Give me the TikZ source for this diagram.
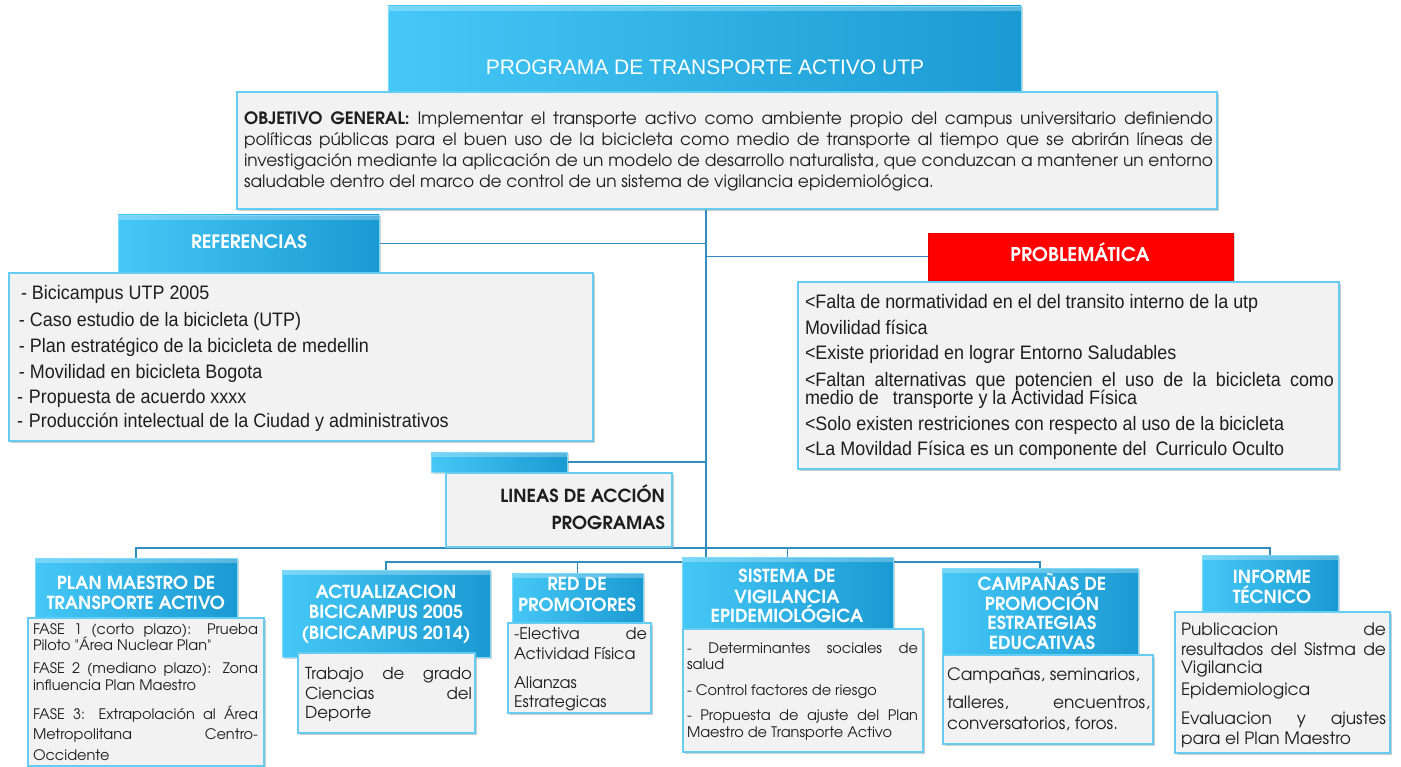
\documentclass[tikz,border=0pt]{standalone}
\usepackage{fontspec}
\setmainfont{texgyreadventor}[Extension=.otf,UprightFont=*-regular,BoldFont=*-bold,ItalicFont=*-italic,BoldItalicFont=*-bolditalic]
\newfontfamily\narrowf[FakeStretch=0.92]{Liberation Sans}
\newfontfamily\titlef{Liberation Sans}
\usetikzlibrary{shadows}
\pgfdeclarelayer{bg}
\pgfsetlayers{bg,main}
\definecolor{hbA}{HTML}{45C8F7}
\definecolor{hbB}{HTML}{1A9AD2}
\definecolor{hbE}{HTML}{7FD9F8}
\definecolor{cbF}{HTML}{F2F2F2}
\definecolor{cbE}{HTML}{66CDF2}
\definecolor{lnC}{HTML}{2F8EBD}
\definecolor{txt}{HTML}{1E1E1E}
\definecolor{redF}{HTML}{FF0000}
\definecolor{redE}{HTML}{E00000}
\newcounter{tlc}
\newcommand\tline[4][]{\stepcounter{tlc}\node[anchor=base west,inner sep=0pt,outer sep=0pt,text=txt,#1] (tl\arabic{tlc}) at (#2,#3) {#4};}
\newcommand\jline[2]{\makebox[#1pt][s]{#2}}
\begin{document}
\begin{tikzpicture}[x=1pt,y=-1pt,
  hbox/.style={draw=hbE,line width=0.8pt,left color=hbA,right color=hbB,anchor=north west,inner sep=0pt,outer sep=0pt,
    drop shadow={shadow xshift=1.5pt,shadow yshift=-1.5pt,opacity=0.35},
    path picture={\fill[white,opacity=0.28] (path picture bounding box.north west) rectangle ([yshift=-5pt]path picture bounding box.north east);}},
  cbox/.style={draw=cbE,line width=1.3pt,fill=cbF,anchor=north west,inner sep=0pt,outer sep=0pt,
    drop shadow={shadow xshift=2pt,shadow yshift=-2pt,opacity=0.4}},
  rbox/.style={fill=redF,draw=redE,line width=0.6pt,anchor=north west,inner sep=0pt,outer sep=0pt,
    drop shadow={shadow xshift=1.5pt,shadow yshift=-1.5pt,opacity=0.35}},
  conn/.style={draw=lnC,line width=1.6pt},
  hf/.style={anchor=base,text=white,font=\bfseries\fontsize{18}{21}\selectfont},
  fobj/.style={font=\fontsize{17}{20}\selectfont},
  fnar/.style={font=\narrowf\fontsize{19.5}{22}\selectfont},
  fb14/.style={font=\fontsize{14.5}{17}\selectfont},
  fb13/.style={font=\fontsize{14.5}{17}\selectfont},
  fb15/.style={font=\fontsize{16}{19}\selectfont},
  fb16/.style={font=\fontsize{17}{20}\selectfont},
  fb17/.style={font=\fontsize{17}{20}\selectfont},
  fb165/.style={font=\fontsize{16.5}{19}\selectfont}]
\useasboundingbox (0,0) rectangle (1401,767);

% boxes
\node[hbox,minimum width=633pt,minimum height=110pt] (title) at (388,6) {};
\node[cbox,minimum width=980pt,minimum height=117pt] (obj) at (237,92) {};
\node[hbox,minimum width=261pt,minimum height=57pt] (refh) at (118,215) {};
\node[cbox,minimum width=584pt,minimum height=168pt] (refc) at (9,273) {};
\node[rbox,minimum width=305pt,minimum height=47pt] (probh) at (928,233) {};
\node[cbox,minimum width=541pt,minimum height=187pt] (probc) at (798,282) {};
\node[hbox,minimum width=136pt,minimum height=20pt] (lintab) at (431,452) {};
\node[cbox,minimum width=226pt,minimum height=74pt] (linc) at (446,473) {};

\node[hbox,minimum width=202pt,minimum height=60pt] (plan) at (35,558) {};
\node[cbox,minimum width=236pt,minimum height=148pt] (planc) at (28,618) {};
\node[hbox,minimum width=208pt,minimum height=87pt] (act) at (282,570) {};
\node[cbox,minimum width=177pt,minimum height=80pt] (actc) at (298,653) {};
\node[hbox,minimum width=131pt,minimum height=50pt] (red) at (512,573) {};
\node[cbox,minimum width=143pt,minimum height=90pt] (redc) at (508,623) {};
\node[hbox,minimum width=211pt,minimum height=73pt] (sis) at (682,557) {};
\node[cbox,minimum width=240pt,minimum height=123pt] (sisc) at (683,629) {};
\node[hbox,minimum width=196pt,minimum height=87pt] (camp) at (942,568) {};
\node[cbox,minimum width=210pt,minimum height=89pt] (campc) at (943,655) {};
\node[hbox,minimum width=136pt,minimum height=57pt] (inf) at (1202,555) {};
\node[cbox,minimum width=215pt,minimum height=141pt] (infc) at (1175,612) {};

% connectors
\coordinate (t0) at (706,209);
\coordinate (hub) at (706,548);
\coordinate (hub2) at (706,562);
\begin{pgfonlayer}{bg}
\draw[conn] (t0) -- (hub2);
\draw[conn] (refh.east) -- (refh.east -| t0);
\draw[conn] (probh.west) -- (probh.west -| t0);
\draw[conn] (lintab.east) -- (lintab.east -| t0);
\draw[conn] (hub) -| (plan.north);
\draw[conn] (hub) -| (sis.north);
\draw[conn] (hub) -| (inf.north);
\draw[conn] (hub2) -| (act.north);
\draw[conn] (hub2) -| (red.north);
\draw[conn] (hub2) -| (camp.north);
\end{pgfonlayer}

% title and objective
\node[anchor=base,text=white,font=\titlef\fontsize{21}{24}\selectfont,inner sep=0pt] (ttl) at (705,74.5) {PROGRAMA DE TRANSPORTE ACTIVO UTP};
\tline[fobj]{244}{125}{\jline{969}{\textbf{OBJETIVO GENERAL:} Implementar el transporte activo como ambiente propio del campus universitario definiendo}}
\tline[fobj]{244}{146}{\jline{969}{políticas públicas para el buen uso de la bicicleta como medio de transporte al tiempo que se abrirán líneas de}}
\tline[fobj]{244}{167}{\jline{969}{investigación mediante la aplicación de un modelo de desarrollo naturalista, que conduzcan a mantener un entorno}}
\tline[fobj]{244}{188}{saludable dentro del marco de control de un sistema de vigilancia epidemiológica.}

% referencias
\tline[hf,font=\bfseries\fontsize{18.5}{21}\selectfont]{249}{249}{REFERENCIAS}
\tline[fnar]{21}{300}{- Bicicampus UTP 2005}
\tline[fnar]{19}{327}{- Caso estudio de la bicicleta (UTP)}
\tline[fnar]{19}{353}{- Plan estratégico de la bicicleta de medellin}
\tline[fnar]{19}{378}{- Movilidad en bicicleta Bogota}
\tline[fnar]{17}{403}{-\hspace{6pt}Propuesta de acuerdo xxxx}
\tline[fnar]{17}{428}{-\hspace{6pt}Producción intelectual de la Ciudad y administrativos}

% problematica
\tline[hf,font=\bfseries\fontsize{19}{22}\selectfont]{1080}{262}{PROBLEMÁTICA}
\tline[fnar]{805}{309}{<Falta de normatividad en el del transito interno de la utp}
\tline[fnar]{805}{335}{Movilidad física}
\tline[fnar]{805}{360}{<Existe prioridad en lograr Entorno Saludables}
\tline[fnar]{805}{387}{\jline{529}{<Faltan alternativas que potencien el uso de la bicicleta como}}
\tline[fnar]{805}{405}{medio de\hspace{14pt}transporte y la Actividad Física}
\tline[fnar]{805}{430}{<Solo existen restriciones con respecto al uso de la bicicleta}
\tline[fnar]{805}{455}{<La Movildad Física es un componente del\hspace{9pt}Curriculo Oculto}

% lineas de accion
\tline[anchor=base east,font=\bfseries\fontsize{18}{21}\selectfont]{665}{502}{LINEAS DE ACCIÓN}
\tline[anchor=base east,font=\bfseries\fontsize{18}{21}\selectfont]{665}{529}{PROGRAMAS}

% plan maestro
\tline[hf]{136}{589}{PLAN MAESTRO DE}
\tline[hf]{136}{609}{TRANSPORTE ACTIVO}
\tline[fb14]{33}{634}{\jline{225}{FASE 1 (corto plazo): Prueba}}
\tline[fb14]{33}{650}{Piloto \textquotedbl Área Nuclear Plan\textquotedbl}
\tline[fb14]{33}{673}{\jline{225}{FASE 2 (mediano plazo): Zona}}
\tline[fb14]{33}{690}{influencia Plan Maestro}
\tline[fb14]{33}{719}{\jline{225}{FASE 3: Extrapolación al Área}}
\tline[fb14]{33}{739}{\jline{225}{Metropolitana Centro-}}
\tline[fb14]{33}{760}{Occidente}

% actualizacion
\tline[hf]{386}{598}{ACTUALIZACION}
\tline[hf]{386}{618}{BICICAMPUS 2005}
\tline[hf]{386}{639}{(BICICAMPUS 2014)}
\tline[fb165]{305}{679}{\jline{167}{Trabajo de grado}}
\tline[fb165]{305}{699}{\jline{167}{Ciencias del}}
\tline[fb165]{305}{718}{Deporte}

% red de promotores
\tline[hf]{577}{590}{RED DE}
\tline[hf]{577}{611}{PROMOTORES}
\tline[fb15]{514}{639}{\jline{133}{-Electiva de}}
\tline[fb15]{514}{659}{Actividad Física}
\tline[fb15]{514}{688}{Alianzas}
\tline[fb15]{514}{707}{Estrategicas}

% sistema
\tline[hf]{787}{582}{SISTEMA DE}
\tline[hf]{787}{603}{VIGILANCIA}
\tline[hf]{787}{622}{EPIDEMIOLÓGICA}
\tline[fb13]{687}{653}{\jline{231}{- Determinantes sociales de}}
\tline[fb13]{687}{669}{salud}
\tline[fb13]{687}{695}{- Control factores de riesgo}
\tline[fb13]{687}{720}{\jline{231}{- Propuesta de ajuste del Plan}}
\tline[fb13]{687}{737}{Maestro de Transporte Activo}

% campañas
\tline[hf]{1042}{590}{CAMPAÑAS DE}
\tline[hf]{1042}{610}{PROMOCIÓN}
\tline[hf]{1042}{629}{ESTRATEGIAS}
\tline[hf]{1042}{649}{EDUCATIVAS}
\tline[fb16]{947}{680}{Campañas, seminarios,}
\tline[fb16]{947}{708}{\jline{203}{talleres, encuentros,}}
\tline[fb16]{947}{729}{conversatorios, foros.}

% informe
\tline[hf]{1272}{583}{INFORME}
\tline[hf]{1272}{603}{TÉCNICO}
\tline[fb17]{1181}{635}{\jline{205}{Publicacion de}}
\tline[fb17]{1181}{655}{\jline{205}{resultados del Sistma de}}
\tline[fb17]{1181}{673}{Vigilancia}
\tline[fb17]{1181}{695}{Epidemiologica}
\tline[fb17]{1181}{724}{\jline{205}{Evaluacion y ajustes}}
\tline[fb17]{1181}{744}{para el Plan Maestro}
\end{tikzpicture}
\end{document}
